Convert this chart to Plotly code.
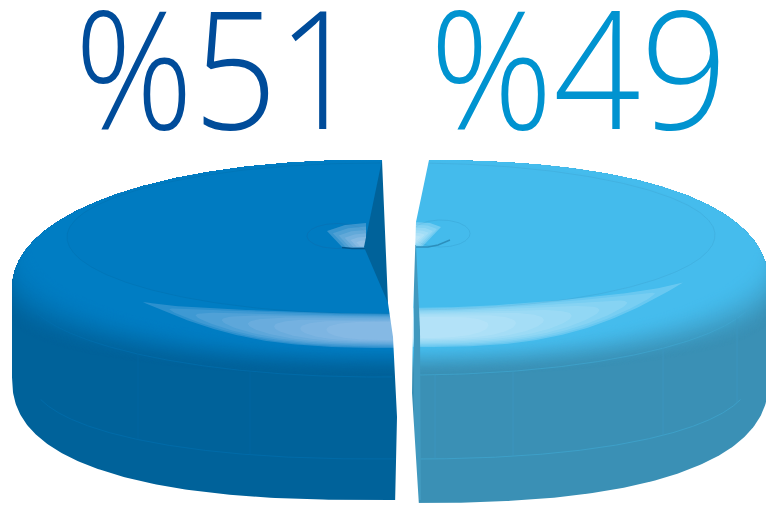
import numpy as np
import plotly.graph_objects as go

# Two-part split shown as an exploded, bevelled disc
shares = [51, 49]
labels = ["%51", "%49"]
label_colors = ["#004C9A", "#0093D0"]
top_colors = ["#007BC1", "#44BBEC"]
bevel_colors = ["#007DC3", "#45BCED"]
side_colors = ["#00629A", "#3A90B5"]
gloss_colors = ["rgba(195,215,245,{})", "rgba(232,248,255,{})"]
panel_x = [[138, 250], [435, 513, 663, 737]]

W, H = 766, 506
fig = go.Figure()


def hex_rgb(c):
    return np.array([int(c[i:i + 2], 16) for i in (1, 3, 5)], float)


def mix(a, b, t):
    v = hex_rgb(a) * (1 - t) + hex_rgb(b) * t
    return "rgb({},{},{})".format(*[int(round(x)) for x in v])


def spow(v, e):
    return np.sign(v) * np.abs(v) ** e


def arc(g, a, cy_up, b_up, cy_dn, b_dn, phi0, phi1, n_up, n_dn, n=260):
    """Superelliptic rim of one slice; phi is measured from the back of the disc."""
    p = np.radians(np.linspace(phi0, phi1, n))
    s, c = np.sin(p), np.cos(p)
    e = np.where(c >= 0, 2 / n_up, 2 / n_dn)
    x = g["cx"] + g["dir"] * a * spow(s, e)
    y = np.where(c >= 0, cy_up - b_up * np.abs(c) ** e, cy_dn + b_dn * np.abs(c) ** e)
    return x, y


def poly(x, y, color):
    fig.add_trace(go.Scatter(x=x, y=y, mode="lines", fill="toself", fillcolor=color,
                             line=dict(width=0, color=color), hoverinfo="skip", showlegend=False))


def stroke(x, y, color, width=0.8):
    fig.add_trace(go.Scatter(x=x, y=y, mode="lines", line=dict(color=color, width=width),
                             hoverinfo="skip", showlegend=False))


def nested(px, py, anchor, levels, color):
    """Soft spot: the same outline repeatedly shrunk towards an anchor point."""
    px, py = np.array(px, float), np.array(py, float)
    for r, alpha in levels:
        poly(anchor[0] + r * (px - anchor[0]), anchor[1] + r * (py - anchor[1]), color.format(alpha))


SEAM_X = 405.0
BACK_CY, BACK_B, WALL_CY = 290.0, 130.0, 375.0
shapes = [
    dict(dir=-1, cx=376.0, a=364.0, flat_a=309.0, start=-1.0, flat_cy=237.0, flat_b=77.0,
         n_up=2.15, n_dn=2.5, rim_b=87.0, bottom_b=125.0),
    dict(dir=1, cx=411.0, a=358.0, flat_a=304.0, start=2.8, flat_cy=235.0, flat_b=75.0,
         n_up=2.4, n_dn=2.5, rim_b=85.0, bottom_b=128.0),
]

for i, g in enumerate(shapes):
    span = 360.0 * shares[i] / sum(shares)
    p0, p1 = g["start"], g["start"] + span

    # body: back rim, vertical wall, bottom rim
    x, y = arc(g, g["a"], BACK_CY, BACK_B, WALL_CY, g["bottom_b"], p0, p1, g["n_up"], g["n_dn"])
    poly(np.r_[x, SEAM_X, SEAM_X], np.r_[y, y[-1], y[0]], side_colors[i])

    # bevel shading: every layer shares the back rim, its lower edge climbs towards the top face
    bx, by = arc(g, g["a"], BACK_CY, BACK_B, BACK_CY, 0, p0, 90, g["n_up"], 2)
    for t in np.linspace(1, 0, 60):
        cy = 244 + (318 - 244) * t
        front = 344 + (376 - 344) * t
        q = np.clip((BACK_CY - cy) / BACK_B, 0, 1) ** g["n_up"]
        a = g["a"] * (1 - q) ** (1 / g["n_up"])
        lx, ly = arc(g, a, cy, 0, cy, front - cy, 90, p1, 2, 2)
        keep = by <= cy
        x, y = np.r_[bx[keep], lx], np.r_[by[keep], ly]
        k = t * t * (3 - 2 * t)
        poly(np.r_[x, SEAM_X, SEAM_X], np.r_[y, y[-1], y[0]], mix(bevel_colors[i], side_colors[i], k))

    # flat top face
    x, y = arc(g, g["flat_a"], g["flat_cy"], g["flat_cy"] - 160.5, g["flat_cy"], g["flat_b"], p0, p1, 2, 2)
    poly(np.r_[x, SEAM_X, SEAM_X], np.r_[y, y[-1], y[0]], top_colors[i])

    # faint outline of the flat top
    x, y = arc(g, g["flat_a"], g["flat_cy"], g["flat_cy"] - 163, g["flat_cy"], g["flat_b"], p0, p1, 2, 2)
    stroke(x, y, mix(top_colors[i], side_colors[i], 0.3), 0.7)

    # faint seams along the wall, with panel lines between them
    sx1, sy1 = arc(g, g["a"] - 12, BACK_CY, 0, BACK_CY, g["rim_b"], 105, p1, 2, 2)
    stroke(sx1, sy1, mix(side_colors[i], top_colors[i], 0.5), 0.7)
    sx2, sy2 = arc(g, g["a"] - 18, WALL_CY, 0, WALL_CY, 84, 105, p1, 2.2, 2.2)
    stroke(sx2, sy2, mix(side_colors[i], top_colors[i], 0.5), 0.7)
    o1, o2 = np.argsort(sx1), np.argsort(sx2)
    for px in panel_x[i]:
        stroke([px, px], [np.interp(px, sx1[o1], sy1[o1]), np.interp(px, sx2[o2], sy2[o2])],
               mix(side_colors[i], top_colors[i], 0.22), 0.7)

# glossy crescents on the front of the bevel
gloss = [
    dict(x_end=SEAM_X, tip=143.0, up0=314.0, up1=14.0, lo0=348.0, lo1=44.0),
    dict(x_end=SEAM_X, tip=683.0, up0=308.0, up1=28.0, lo0=347.0, lo1=62.0),
]
for i, h in enumerate(gloss):
    for r, alpha in zip(np.linspace(1, 0.3, 8), [0.22, 0.13, 0.13, 0.12, 0.12, 0.12, 0.12, 0.12]):
        u = np.linspace(0, r, 90)
        xx = h["x_end"] + (h["tip"] - h["x_end"]) * u
        up = h["up0"] - h["up1"] * u ** 2
        lo = h["lo0"] - h["lo1"] * u ** 3
        mid, half = (up + lo) / 2, (lo - up) / 2
        half = half * (0.35 + 0.65 * r) * np.sqrt(np.clip(1 - (u / r) ** 4, 0, 1))
        poly(np.r_[xx, xx[::-1]], np.r_[mid - half, (mid + half)[::-1]], gloss_colors[i].format(alpha))

# dimples around the centre
theta = np.linspace(0, 2 * np.pi, 120)
stroke(337 + 30 * np.cos(theta), 236 + 12.5 * np.sin(theta), "#0A6FB0", 0.6)
stroke(441 + 29 * np.cos(theta), 233.5 + 13.5 * np.sin(theta), "#3BA8D8", 0.6)
levels = [(1.0, 0.28), (0.85, 0.16), (0.7, 0.16), (0.55, 0.18), (0.4, 0.2), (0.25, 0.2)]
nested([366, 345, 327, 335, 343, 366], [223, 225, 231, 240, 248, 248], (366, 246), levels,
       "rgba(200,218,244,{})")
nested([414, 430, 441, 432, 422, 414], [222, 223, 227, 236, 247, 247], (414, 240), levels,
       "rgba(228,246,255,{})")
stroke([342, 352, 366], [247.5, 248.5, 248.5], "#00558C", 1.4)
stroke([414, 428, 438, 450], [247, 247, 245, 240], "#2C8FBC", 1.4)

# inner cut face of the larger slice and sliver of the smaller one
poly([382, 364, 388, 392, 382], [160, 247, 303, 160, 160], side_colors[0])
poly([414, 416, 420, 421, 414], [245, 245, 330, 500, 500], "#4199BF")

# white gap between the two slices
left_edge_x = [382, 388, 393, 397, 395, 395]
left_edge_y = [160, 303, 337, 417, 498, 506]
right_edge_x = [419, 412, 413, 416, 429, 429]
right_edge_y = [506, 393, 317, 222, 160, 150]
poly([382] + left_edge_x + right_edge_x + [382], [150] + left_edge_y + right_edge_y + [150], "#FFFFFF")

annotations = [
    dict(x=x0, y=y0, text=t, xref="x", yref="y", xanchor="left", yanchor="middle", showarrow=False,
         font=dict(family="Open Sans", size=164, color=c, weight=300))
    for x0, y0, t, c in zip([56, 417], [65, 65], labels, label_colors)
]

fig.update_layout(
    width=W, height=H, margin=dict(l=0, r=0, t=0, b=0),
    paper_bgcolor="white", plot_bgcolor="white", showlegend=False,
    xaxis=dict(range=[0, W], visible=False, fixedrange=True),
    yaxis=dict(range=[H, 0], visible=False, fixedrange=True),
    annotations=annotations,
)

# condense the two large percentage labels a little
condense = """
var squeeze = [0.897, 0.934];
document.querySelectorAll('.annotation-text').forEach(function (el, i) {
  el.setAttribute('lengthAdjust', 'spacingAndGlyphs');
  el.setAttribute('textLength', el.getComputedTextLength() * squeeze[i]);
});
"""
fig.write_html("out.html", post_script=condense)
